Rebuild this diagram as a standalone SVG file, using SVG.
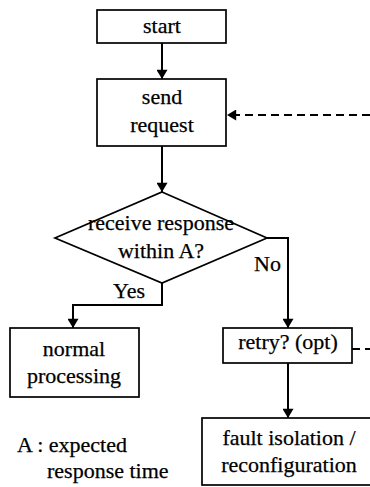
<svg xmlns="http://www.w3.org/2000/svg" width="370" height="487" viewBox="0 0 370 487">
<defs>
<marker id="ah" viewBox="0 0 10 12" refX="10" refY="6" markerWidth="12" markerHeight="11" markerUnits="userSpaceOnUse" orient="auto">
<path d="M0,0 L10,6 L0,12 z" fill="#000"/>
</marker>
<style>
rect,polygon{fill:#fff;stroke:#000;stroke-width:1.7}
.c{fill:none;stroke:#000;stroke-width:2}
.d{stroke-dasharray:8 5}
text{font-family:"Liberation Serif","Times New Roman",serif;font-size:22px;fill:#000;stroke:#000;stroke-width:0.25}
.m{text-anchor:middle}
</style>
</defs>
<g id="connectors">
<path class="c" d="M162,43 V79" marker-end="url(#ah)"/>
<path class="c" d="M162,146 V192" marker-end="url(#ah)"/>
<path class="c" d="M162,283 V305 H73 V328" marker-end="url(#ah)"/>
<path class="c" d="M267,238 H288 V328" marker-end="url(#ah)"/>
<path class="c" d="M288,363 V418" marker-end="url(#ah)"/>
<path class="c d" d="M370,115 H227" marker-end="url(#ah)"/>
<path class="c d" d="M352,349 H370"/>
<text x="113" y="298">Yes</text>
<text x="254" y="271">No</text>
</g>
<g id="start"><rect x="97" y="10" width="129" height="33"/><text class="m" x="162" y="33">start</text></g>
<g id="send"><rect x="97" y="79" width="129" height="67"/><text class="m" x="162" y="104">send</text><text class="m" x="162" y="132">request</text></g>
<g id="decision"><polygon points="162,192 267,238 162,283 55,238"/><text class="m" x="161" y="230">receive response</text><text class="m" x="161" y="258">within A?</text></g>
<g id="normal"><rect x="10" y="328" width="129" height="69"/><text class="m" x="74" y="356">normal</text><text class="m" x="74" y="383">processing</text></g>
<g id="retry"><rect x="223" y="328" width="129" height="35"/><text class="m" x="288" y="349">retry? (opt)</text></g>
<g id="fault"><rect x="202" y="418" width="190" height="67"/><text class="m" x="289" y="445">fault isolation /</text><text class="m" x="289" y="472">reconfiguration</text></g>
<g id="legend"><text x="17" y="452">A : expected</text><text x="47" y="478">response time</text></g>
</svg>
